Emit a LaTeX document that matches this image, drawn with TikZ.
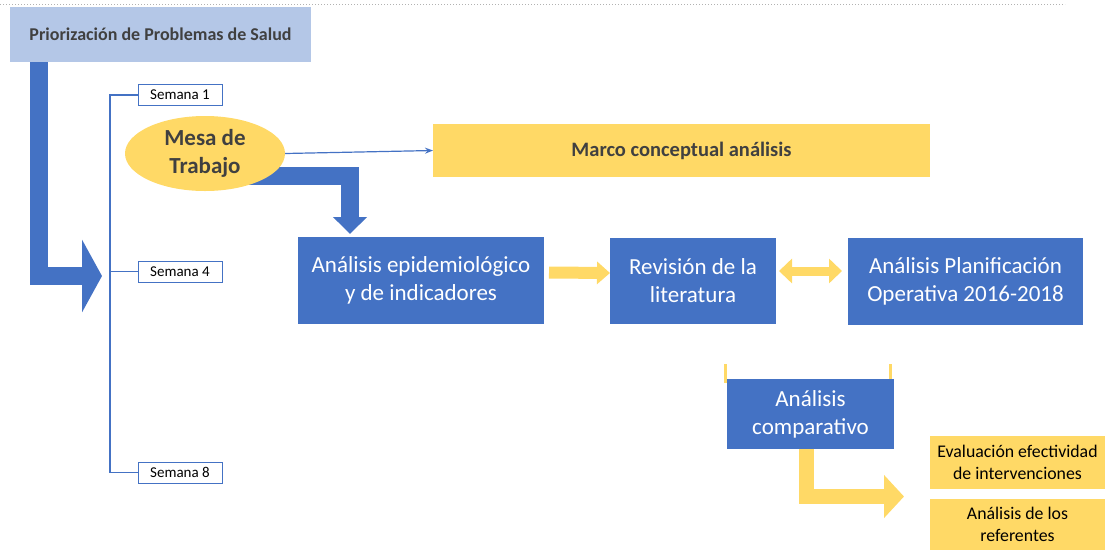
\documentclass[tikz,border=0pt]{standalone}
\usepackage{fontspec}
\setmainfont{Carlito}
\usetikzlibrary{arrows.meta,calc,backgrounds,shapes.geometric}
\definecolor{boxblue}{HTML}{4472C4}
\definecolor{boxyellow}{HTML}{FFD966}
\definecolor{titleblue}{HTML}{B4C7E7}
\definecolor{darktext}{HTML}{404040}

\begin{document}
\begin{tikzpicture}[x=1pt, y=-1pt, line join=miter,
  every node/.style={inner sep=0pt, outer sep=0pt, align=center},
  bluebox/.style={fill=boxblue, text=white, font=\fontsize{23}{28}\selectfont},
  yellowbox/.style={fill=boxyellow},
  weekbox/.style={draw=boxblue, line width=1pt, fill=white, minimum width=84pt, minimum height=21pt, font=\fontsize{15}{18}\selectfont},
  thinline/.style={boxblue, line width=1.5pt},
  bigblue/.style={boxblue, line width=17.5pt},
  bigyellow/.style={boxyellow, line width=12pt}]
    \useasboundingbox (0,0) rectangle (1105,550);
    \draw[gray!60, dotted, line width=1pt] (0,4) -- (1065,4);

    \node[fill=titleblue, text=darktext, minimum width=301pt, minimum height=55pt, font=\bfseries\fontsize{18}{21}\selectfont] (title) at (160.5,34.5) {Priorización de Problemas de Salud};

    \node[weekbox] (sem1) at (180,95) {Semana 1};
    \node[weekbox] (sem4) at (180,271.5) {Semana 4};
    \node[weekbox] (sem8) at (180,472.5) {Semana 8};

    \node[ellipse, fill=boxyellow, text=darktext, minimum width=160pt, minimum height=75pt, font=\bfseries\fontsize{23}{28}\selectfont] (mesa) at (205,153.5) {Mesa de\\Trabajo};
    \node[yellowbox, text=darktext, minimum width=497pt, minimum height=53pt, font=\bfseries\fontsize{20.5}{24}\selectfont] (marco) at (681.5,150.5) {Marco conceptual análisis};

    \node[bluebox, minimum width=246pt, minimum height=87pt] (epi) at (421,280.5) {Análisis epidemiológico\\y de indicadores};
    \node[bluebox, minimum width=166pt, minimum height=86pt] (rev) at (693,281) {Revisión de la\\literatura};
    \node[bluebox, minimum width=235pt, minimum height=87pt] (plan) at (965.5,281.5) {Análisis Planificación\\Operativa 2016-2018};
    \node[bluebox, minimum width=167pt, minimum height=70pt] (comp) at (810.5,414) {Análisis\\comparativo};

    \node[yellowbox, text=black, minimum width=175pt, minimum height=53pt, font=\fontsize{17.8}{21.5}\selectfont] (eval) at (1017.5,462.5) {Evaluación efectividad\\de intervenciones};
    \node[yellowbox, text=black, minimum width=175pt, minimum height=51pt, font=\fontsize{17.8}{21.5}\selectfont] (refer) at (1017.5,524.5) {Análisis de los\\referentes};

    \coordinate (w4) at (102,276);
    \coordinate (epitop) at ($(epi.north west)+(52,-3)$);
    \coordinate (evtip) at ($(eval.south west)+(-26,7.5)$);

    \begin{scope}[on background layer]
        % semanas
        \draw[thinline] (sem1.west) -- ++(-28,0) |- (sem8.west);
        \draw[thinline] (sem4.west) -- ++(-28,0);
        % flechas gruesas
        \draw[boxblue, line width=18pt, -{Triangle[width=72pt, length=20pt]}] ($(title.south west)+(29,0)$) |- (w4);
        \draw[bigblue, -{Triangle[width=33pt, length=17pt]}] ($(mesa.south)+(25,-15)$) -| (epitop);
        \draw[thinline, line width=1.2pt, -{Stealth[length=8pt, width=6pt]}] (mesa.east) -- (marco.west);
        \draw[bigyellow, -{Triangle[width=22pt, length=13pt]}] ($(epi.east)+(5,-8)$) -- ($(rev.west)+(0,-8)$);
        \draw[boxyellow, line width=9pt, {Triangle[width=24pt, length=13pt]}-{Triangle[width=24pt, length=13pt]}] ($(rev.east)+(3,-10)$) -- ($(plan.west)+(-6,-10.5)$);
        \draw[boxyellow, line width=3pt] ($(comp.north west)+(-1.5,-15)$) |- ($(comp.north east)+(-3.5,2)$) -- ++(0,-17);
        \draw[boxyellow, line width=15pt, -{Triangle[width=42pt, length=20pt]}] ($(comp.south)+(-4,0)$) |- (evtip);
    \end{scope}
\end{tikzpicture}
\end{document}
